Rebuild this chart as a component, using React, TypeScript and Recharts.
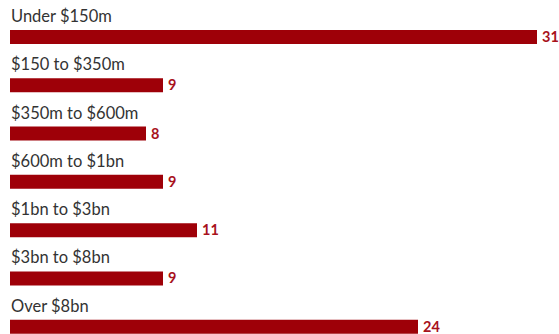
import React from "react";
import { BarChart, Bar, XAxis, YAxis, LabelList } from "recharts";

const categories = [
  "Under $150m",
  "$150 to $350m",
  "$350m to $600m",
  "$600m to $1bn",
  "$1bn to $3bn",
  "$3bn to $8bn",
  "Over $8bn",
];
const values = [31, 9, 8, 9, 11, 9, 24];

const data = categories.map((c, i) => ({ name: c, value: values[i] }));

const BAR_COLOR = "#9e0008";
const LABEL_COLOR = "#a8121c";
const FONT = "Lato, 'Open Sans', sans-serif";

const CategoryLabel = (props: any) => {
  const { y, value } = props;
  return (
    <text x={11} y={y - 8} fill="#333333" fontSize={16.5} fontFamily={FONT}>
      {value}
    </text>
  );
};

const ValueLabel = (props: any) => {
  const { x, y, width, height, value } = props;
  return (
    <text
      x={x + width + 5}
      y={y + height - 2}
      fill={LABEL_COLOR}
      fontSize={14.5}
      fontWeight="bold"
      fontFamily={FONT}
    >
      {value}
    </text>
  );
};

export default function App() {
  return (
    <div
      style={{
        position: "absolute",
        left: 0,
        top: 0,
        width: 559,
        height: 334,
        overflow: "hidden",
        background: "#fff",
      }}
    >
      <BarChart
        width={559}
        height={351}
        data={data}
        layout="vertical"
        margin={{ top: 13, right: 22, bottom: 0, left: 10 }}
      >
        <XAxis type="number" domain={[0, 31]} hide />
        <YAxis type="category" dataKey="name" hide />
        <Bar dataKey="value" fill={BAR_COLOR} barSize={14} isAnimationActive={false}>
          <LabelList dataKey="name" content={CategoryLabel} />
          <LabelList dataKey="value" content={ValueLabel} />
        </Bar>
      </BarChart>
    </div>
  );
}
